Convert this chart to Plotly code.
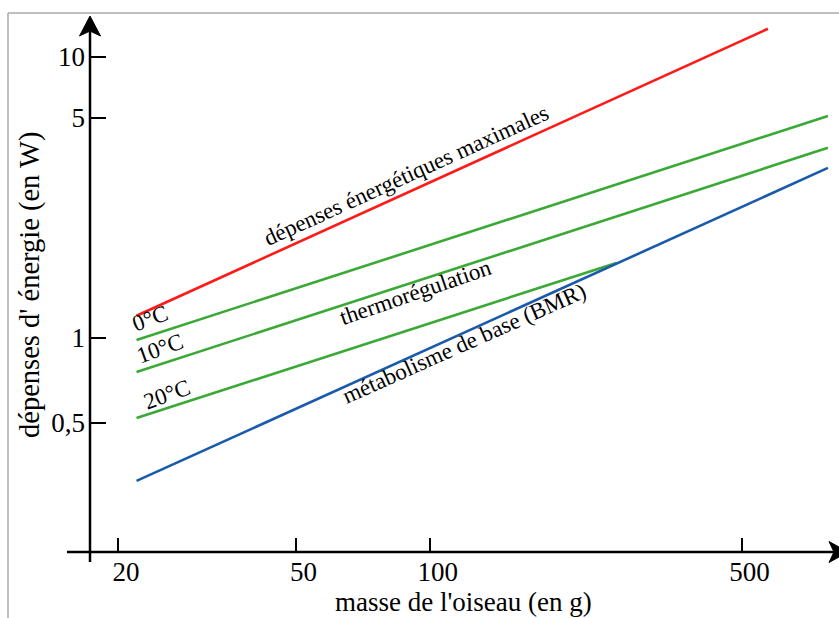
import plotly.graph_objects as go

# ---- data ----
masse_max = [22, 573]
energie_max = [1.20, 12.6]

masse_0C = [22, 781]
energie_0C = [0.984, 6.17]

masse_10C = [22, 781]
energie_10C = [0.757, 4.75]

masse_20C = [22, 262]
energie_20C = [0.519, 1.85]

masse_bmr = [22, 781]
energie_bmr = [0.31, 4.03]

x_tick_vals = [20, 50, 100, 500]
x_tick_text = ["20", "50", "100", "500"]
y_tick_vals = [0.5, 1, 6.07, 10]
y_tick_text = ["0,5", "1", "5", "10"]

RED = "#ff1a1a"
GREEN = "#3aa935"
BLUE = "#1a5aab"
FONT = "Liberation Serif"

W, H = 839, 618
L, R, T, B = 90, 0, 13, 66
PW, PH = W - L - R, H - T - B


def px(x):
    return (x - L) / PW


def py(y):
    return (H - B - y) / PH


fig = go.Figure()
for xs, ys, c in [
    (masse_max, energie_max, RED),
    (masse_0C, energie_0C, GREEN),
    (masse_10C, energie_10C, GREEN),
    (masse_20C, energie_20C, GREEN),
    (masse_bmr, energie_bmr, BLUE),
]:
    fig.add_trace(go.Scatter(x=xs, y=ys, mode="lines",
                             line=dict(color=c, width=2.6),
                             showlegend=False, hoverinfo="skip"))

shapes = []
# grey frame (left and top)
shapes.append(dict(type="line", xref="paper", yref="paper",
                   x0=px(8), y0=py(13), x1=px(8), y1=py(640),
                   line=dict(color="#aaaaaa", width=1.5)))
shapes.append(dict(type="line", xref="paper", yref="paper",
                   x0=px(8), y0=py(13), x1=px(860), y1=py(13),
                   line=dict(color="#aaaaaa", width=1.5)))
# axis lines
shapes.append(dict(type="line", xref="paper", yref="paper",
                   x0=px(90), y0=py(30), x1=px(90), y1=py(562),
                   line=dict(color="black", width=2.5)))
shapes.append(dict(type="line", xref="paper", yref="paper",
                   x0=px(67), y0=py(552), x1=px(835), y1=py(552),
                   line=dict(color="black", width=2.5)))


def path(points):
    s = "M " + " L ".join(f"{px(a):.5f},{py(b):.5f}" for a, b in points) + " Z"
    return s


shapes.append(dict(type="path", xref="paper", yref="paper",
                   path=path([(90, 16), (100.5, 36), (90, 31), (79.5, 36)]),
                   fillcolor="black", line=dict(color="black", width=1)))
shapes.append(dict(type="path", xref="paper", yref="paper",
                   path=path([(848, 552), (829, 541.5), (834, 552), (829, 562.5)]),
                   fillcolor="black", line=dict(color="black", width=1)))

annotations = []


def ann(text, x, y, angle=0, size=23):
    annotations.append(dict(text=text, x=px(x), y=py(y), xref="paper", yref="paper",
                            showarrow=False, textangle=angle, xanchor="center",
                            yanchor="middle", font=dict(family=FONT, size=size, color="black")))


ann("masse de l'oiseau (en g)", 463, 602, 0, 27)
ann("dépenses d' énergie (en W)", 30, 285, -90, 28.5)
ann("dépenses énergétiques maximales", 406, 175, -24.4, 23)
ann("thermorégulation", 415, 292, -19, 23)
ann("métabolisme de base (BMR)", 464, 343, -24, 23)
ann("0°C", 150, 318, -20, 23)
ann("10°C", 160, 348, -20, 23)
ann("20°C", 167, 394, -20, 23)

fig.update_layout(
    width=W, height=H,
    margin=dict(l=L, r=R, t=T, b=B, pad=0),
    paper_bgcolor="white", plot_bgcolor="white",
    font=dict(family=FONT, size=27, color="black"),
    shapes=shapes, annotations=annotations,
    xaxis=dict(type="log", range=[1.2381, 2.9175], showgrid=False, zeroline=False,
               showline=False, ticks="inside", ticklen=14, tickwidth=2,
               tickcolor="black", tickvals=x_tick_vals, ticktext=x_tick_text,
               tickfont=dict(family=FONT, size=27), ticklabelshift=8,
               ticklabelstandoff=1, fixedrange=True),
    yaxis=dict(type="log", range=[-0.7616, 1.1566], showgrid=False, zeroline=False,
               showline=False, ticks="inside", ticklen=16, tickwidth=2,
               tickcolor="black", tickvals=y_tick_vals, ticktext=y_tick_text,
               tickfont=dict(family=FONT, size=27), ticklabelstandoff=4,
               fixedrange=True),
)

fig.write_html("out.html", config={"displayModeBar": False},
               post_script="document.body.style.margin='0';document.body.style.overflow='hidden';")
